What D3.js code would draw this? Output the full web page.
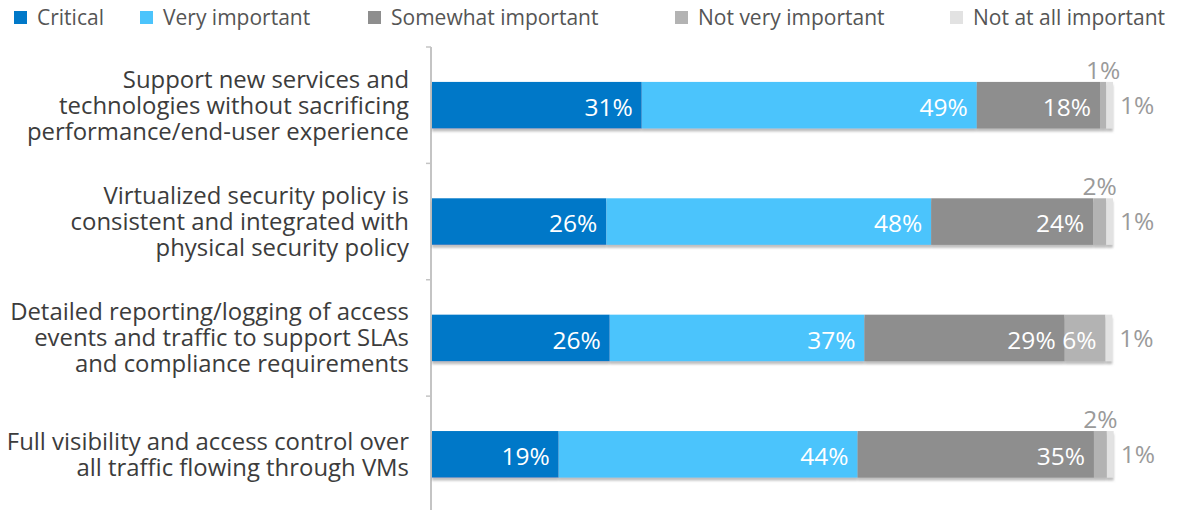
<!DOCTYPE html>
<html>
<head>
<meta charset="utf-8">
<script src="https://cdn.jsdelivr.net/npm/d3@7"></script>
<style>
  body { margin: 0; background: #fff; }
  svg { display: block; font-family: "Open Sans", sans-serif; }
</style>
</head>
<body>
<div id="chart"></div>
<script>
// categories, one entry per line of the wrapped label
var categories = [
  ["Support new services and", "technologies without sacrificing", "performance/end-user experience"],
  ["Virtualized security policy is", "consistent and integrated with", "physical security policy"],
  ["Detailed reporting/logging of access", "events and traffic to support SLAs", "and compliance requirements"],
  ["Full visibility and access control over", "all traffic flowing through VMs"]
];
var seriesNames = ["Critical", "Very important", "Somewhat important", "Not very important", "Not at all important"];
var critical     = [30.8, 25.6, 26.1, 18.6];
var veryImp      = [49.2, 47.7, 37.4, 43.9];
var somewhatImp  = [18.1, 23.8, 29.4, 34.7];
var notVeryImp   = [0.9, 1.9, 6.0, 1.9];
var notAtAllImp  = [1.0, 1.0, 1.0, 1.0];

var colors = ["#0078c8", "#4cc4fc", "#8e8e8e", "#b3b3b3", "#e2e2e2"];
var legendX = [14, 140, 368, 675, 950];

var w = 1182, h = 510;
var svg = d3.select("#chart").append("svg").attr("width", w).attr("height", h);

var defs = svg.append("defs");
var f = defs.append("filter").attr("id", "shadow")
  .attr("x", "-2%").attr("y", "-20%").attr("width", "104%").attr("height", "150%");
f.append("feDropShadow").attr("dx", 0).attr("dy", 3).attr("stdDeviation", 1.2)
  .attr("flood-color", "#888").attr("flood-opacity", 0.55);

var rows = categories.map(function (c, i) {
  return { cat: i, values: [critical[i], veryImp[i], somewhatImp[i], notVeryImp[i], notAtAllImp[i]] };
});
var stack = d3.stack().keys([0, 1, 2, 3, 4]).value(function (d, k) { return d.values[k]; });
var layers = stack(rows);

var x = d3.scaleLinear().domain([0, 100]).range([432, 1113]);
var y = d3.scaleBand().domain(d3.range(categories.length)).range([47, 512.5])
  .paddingInner(0.6).paddingOuter(0.3);

// axis line + ticks at band boundaries
var axisG = svg.append("g");
axisG.append("line").attr("x1", 431).attr("x2", 431).attr("y1", 47).attr("y2", h)
  .attr("stroke", "#c4c4c4").attr("stroke-width", 2);
axisG.selectAll("line.tick").data(d3.range(categories.length)).enter().append("line")
  .attr("class", "tick")
  .attr("x1", 426).attr("x2", 431)
  .attr("y1", function (d) { return y(d) - y.step() * 0.3; })
  .attr("y2", function (d) { return y(d) - y.step() * 0.3; })
  .attr("stroke", "#c4c4c4").attr("stroke-width", 1.5);

// category labels
var lineH = 26;
svg.append("g").selectAll("text").data(categories).enter().append("text")
  .attr("text-anchor", "end")
  .attr("font-size", 23.9)
  .attr("fill", "#3c3c3c")
  .each(function (lines, i) {
    var cy = y(i) + y.bandwidth() / 2;
    var top = cy - (lines.length - 1) * lineH / 2;
    d3.select(this).selectAll("tspan").data(lines).enter().append("tspan")
      .attr("x", 409)
      .attr("y", function (d, j) { return top + j * lineH; })
      .attr("dy", "0.35em")
      .text(function (d) { return d; });
  });

// bars
var barG = svg.append("g").selectAll("g.row").data(rows).enter().append("g")
  .attr("class", "row").attr("filter", "url(#shadow)");
barG.selectAll("rect").data(function (r, i) {
    return layers.map(function (L, k) { return { k: k, row: i, d: L[i] }; });
  }).enter().append("rect")
  .attr("x", function (d) { return x(d.d[0]); })
  .attr("y", function (d) { return y(d.row); })
  .attr("width", function (d) { return x(d.d[1]) - x(d.d[0]); })
  .attr("height", y.bandwidth())
  .attr("fill", function (d) { return colors[d.k]; });

// value labels
var fmt = function (v) { return Math.round(v) + "%"; };
var labelG = svg.append("g").attr("font-size", 24.5);
layers.forEach(function (L, k) {
  L.forEach(function (seg, i) {
    var v = seg[1] - seg[0];
    var cy = y(i) + y.bandwidth() / 2;
    var t = labelG.append("text").text(fmt(v));
    if (k === 4) {
      t.attr("x", x(seg[1]) + 7).attr("y", cy).attr("dy", "0.35em").attr("fill", "#9a9a9a");
    } else if (v < 3) {
      t.attr("x", (x(seg[0]) + x(seg[1])) / 2).attr("y", y(i) - 3)
        .attr("text-anchor", "middle").attr("fill", "#9a9a9a");
    } else {
      t.attr("x", x(seg[1]) - 9).attr("y", cy + 2).attr("dy", "0.35em")
        .attr("text-anchor", "end").attr("fill", "#fff");
    }
  });
});

// legend
var leg = svg.append("g").selectAll("g").data(seriesNames).enter().append("g")
  .attr("transform", function (d, i) { return "translate(" + legendX[i] + ",0)"; });
leg.append("rect").attr("x", 0).attr("y", 11).attr("width", 13).attr("height", 13)
  .attr("fill", function (d, i) { return colors[i]; });
leg.append("text").attr("x", 23).attr("y", 18).attr("dy", "0.35em")
  .attr("font-size", 21).attr("fill", "#555")
  .text(function (d) { return d; });
</script>
</body>
</html>
